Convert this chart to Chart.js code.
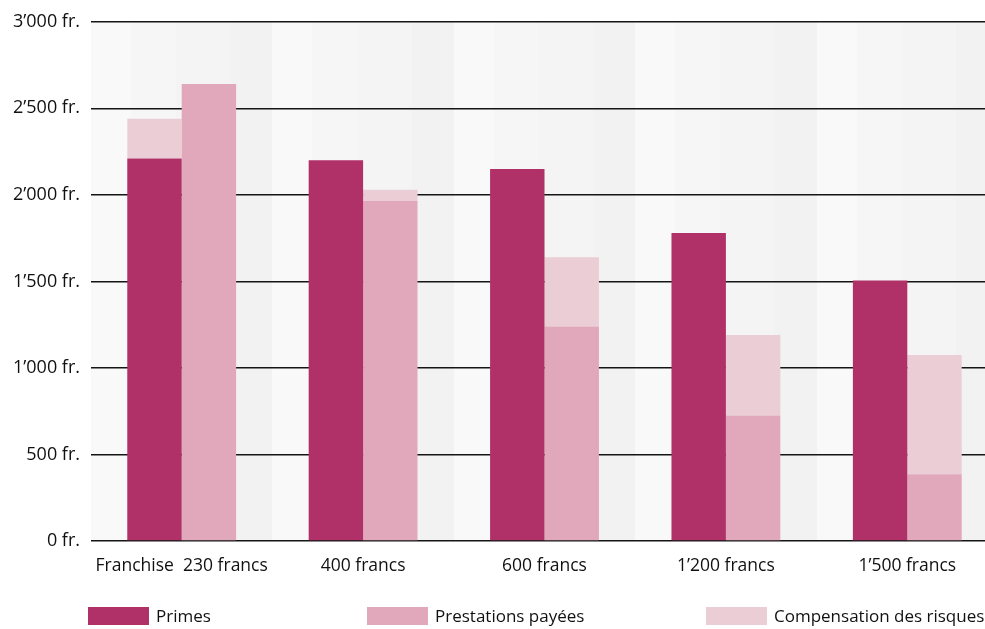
<!DOCTYPE html>
<html lang="fr">
<head>
<meta charset="utf-8">
<title>Primes, prestations et compensation des risques par franchise</title>
<script src="https://cdn.jsdelivr.net/npm/chart.js@4/dist/chart.umd.min.js"></script>
<style>
  html, body { margin: 0; padding: 0; background: #ffffff; overflow: hidden; }
  #wrap { width: 985px; height: 629px; overflow: hidden; position: relative; }
  canvas { display: block; }
</style>
</head>
<body>
<div id="wrap"><canvas id="chart" width="998" height="629"></canvas></div>
<script>
// Franchise levels (x categories)
const franchises = ['Franchise  230 francs', '400 francs', '600 francs', '1’200 francs', '1’500 francs'];

// Average amounts per insured person, in francs
const primes = [2210, 2200, 2150, 1780, 1505];
const prestations = [2640, 1965, 1240, 725, 385];
// Risk compensation: added on the premiums column for the lowest franchise,
// on the benefits column for the others
const compensationOnPrimes = [230, null, null, null, null];
const compensationOnPrestations = [null, 65, 400, 465, 690];

// Value axis ticks
const yTicks = [0, 500, 1000, 1500, 2000, 2500, 3000];

const legendLabels = ['Primes', 'Prestations payées', 'Compensation des risques'];

const COLORS = {
  primes: '#b03068',
  prestations: '#e0a8ba',
  compensation: '#ebcdd5',
  text: '#111111',
  grid: '#151515'
};
const FONT = '"Open Sans", "Liberation Sans", sans-serif';

function formatFrancs(v) {
  if (v >= 1000) {
    const th = Math.floor(v / 1000);
    const rest = String(v % 1000).padStart(3, '0');
    return th + '’' + rest + ' fr.';
  }
  return v + ' fr.';
}

// Light stepped shading behind each category column
const bandShading = {
  id: 'bandShading',
  beforeDraw(chart) {
    const { ctx, chartArea } = chart;
    const n = chart.data.labels.length;
    const w = (chartArea.right - chartArea.left) / n;
    const stops = [0, 0.22, 0.47, 0.77, 1];
    const shades = ['#f9f9f9', '#f6f6f6', '#f4f4f4', '#f2f2f2'];
    ctx.save();
    for (let i = 0; i < n; i++) {
      const x0 = chartArea.left + i * w;
      for (let s = 0; s < shades.length; s++) {
        const a = Math.round(x0 + stops[s] * w);
        const b = Math.round(x0 + stops[s + 1] * w);
        ctx.fillStyle = shades[s];
        ctx.fillRect(a, chartArea.top, b - a, chartArea.bottom - chartArea.top);
      }
    }
    ctx.restore();
  }
};

// Legend laid out across the bottom of the figure
const bottomLegend = {
  id: 'bottomLegend',
  afterDraw(chart) {
    const { ctx } = chart;
    const items = [
      { x: 88, color: COLORS.primes, text: legendLabels[0] },
      { x: 367, color: COLORS.prestations, text: legendLabels[1] },
      { x: 706, color: COLORS.compensation, text: legendLabels[2] }
    ];
    ctx.save();
    ctx.font = '17px ' + FONT;
    ctx.textBaseline = 'middle';
    ctx.textAlign = 'left';
    items.forEach(it => {
      ctx.fillStyle = it.color;
      ctx.fillRect(it.x, 607, 61, 18);
      ctx.fillStyle = COLORS.text;
      ctx.fillText(it.text, it.x + 68, 617);
    });
    ctx.restore();
  }
};

new Chart(document.getElementById('chart'), {
  type: 'bar',
  data: {
    labels: franchises,
    datasets: [
      { label: legendLabels[0], data: primes, backgroundColor: COLORS.primes, stack: 'primes' },
      { label: legendLabels[1], data: prestations, backgroundColor: COLORS.prestations, stack: 'prestations' },
      { label: legendLabels[2], data: compensationOnPrimes, backgroundColor: COLORS.compensation, stack: 'primes' },
      { label: legendLabels[2], data: compensationOnPrestations, backgroundColor: COLORS.compensation, stack: 'prestations' }
    ]
  },
  options: {
    responsive: false,
    animation: false,
    devicePixelRatio: 1,
    layout: { padding: { top: 21, left: 0, right: 0, bottom: 0 } },
    datasets: {
      bar: { categoryPercentage: 0.6, barPercentage: 1.0, borderWidth: 0 }
    },
    plugins: {
      legend: { display: false },
      tooltip: { enabled: false }
    },
    scales: {
      x: {
        stacked: true,
        offset: true,
        grid: { display: false, drawTicks: false },
        border: { display: false },
        ticks: {
          color: COLORS.text,
          font: { family: FONT, size: 17.5 },
          padding: 15,
          maxRotation: 0,
          autoSkip: false
        },
        afterFit(scale) { scale.height = 88; }
      },
      y: {
        stacked: true,
        min: yTicks[0],
        max: yTicks[yTicks.length - 1],
        afterBuildTicks(scale) { scale.ticks = yTicks.map(v => ({ value: v })); },
        grid: { color: COLORS.grid, lineWidth: 1.5, drawTicks: false },
        border: { display: false },
        ticks: {
          color: COLORS.text,
          font: { family: FONT, size: 18 },
          padding: 11,
          callback: v => formatFrancs(v)
        },
        afterFit(scale) { scale.width = 91; }
      }
    }
  },
  plugins: [bandShading, bottomLegend]
});
</script>
</body>
</html>
